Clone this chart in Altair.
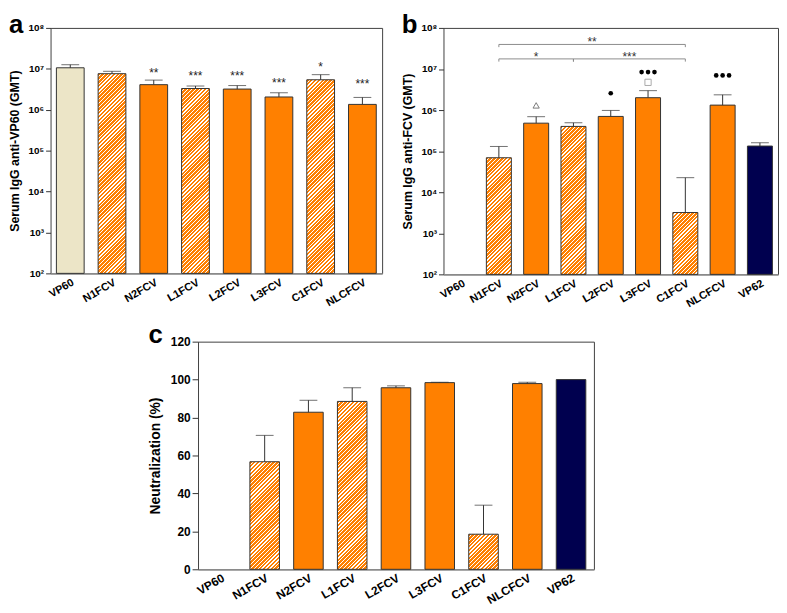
import math
import altair as alt
import pandas as pd

# ---------------- data ----------------
cats_a = ["VP60", "N1FCV", "N2FCV", "L1FCV", "L2FCV", "L3FCV", "C1FCV", "NLCFCV"]
gmt_a = [1.06e7, 7.6e6, 4.1e6, 3.3e6, 3.2e6, 2.05e6, 5.4e6, 1.35e6]
err_a = [1.26e7, 8.7e6, 5.3e6, 3.8e6, 3.9e6, 2.6e6, 7.2e6, 2.0e6]
stars_a = ["", "", "**", "***", "***", "***", "*", "***"]
star_y_a = [None, None, 6.4e6, 5.3e6, 5.3e6, 3.67e6, 8.96e6, 3.34e6]

cats_bc = ["VP60", "N1FCV", "N2FCV", "L1FCV", "L2FCV", "L3FCV", "C1FCV", "NLCFCV", "VP62"]
gmt_b = [None, 6.9e4, 4.8e5, 4.0e5, 7.0e5, 2.0e6, 3.2e3, 1.32e6, 1.33e5]
err_b = [None, 1.3e5, 6.9e5, 4.9e5, 9.8e5, 2.97e6, 2.26e4, 2.35e6, 1.6e5]

sym_cat_b = ["N2FCV", "L2FCV", "L3FCV", "L3FCV", "NLCFCV"]
sym_kind_b = ["triangle", "dot", "square", "dots", "dots"]
sym_y_b = [1.3e6, 2.57e6, 4.73e6, 8.4e6, 6.97e6]

br_from = ["N1FCV", "N1FCV", "L1FCV"]
br_to = ["C1FCV", "L1FCV", "C1FCV"]
br_level = [3.96e7, 1.76e7, 1.76e7]
br_label = ["**", "*", "***"]

neut_c = [0, 56.7, 82.8, 88.5, 95.7, 98.4, 18.5, 97.9, 100]
neut_err_c = [None, 70.6, 89.1, 95.7, 96.7, 98.6, 33.8, 98.6, None]

hatched = ["N1FCV", "L1FCV", "C1FCV"]

# ---------------- style ----------------
FONT = "Liberation Sans"
ORANGE = "#FF8000"
BEIGE = "#ECE5C7"
NAVY = "#00004F"
EDGE = "#333333"

W_A, H_A = 335, 248
W_B, H_B = 338, 249
W_C, H_C = 400, 230
PI_A, PO_A = 0.335, 0.14
PI_B, PO_B = 0.33, 0.15
PI_C, PO_C = 0.325, 0.185


def step_of(W, n, pi, po):
    return W / (n - pi + 2 * po)


def hatch(w, h, period=3.9, white=1.4):
    L = w + h
    a = L / (w * w + h * h)
    stops = []
    n = int(math.ceil(L / period)) + 1
    for k in range(n):
        s0 = k * period
        s1 = s0 + period - white
        s2 = s0 + period
        for off, col in [(s0, ORANGE), (s1, ORANGE), (s1, "#FFFFFF"), (s2, "#FFFFFF")]:
            stops.append(alt.GradientStop(color=col, offset=min(off / L, 1.0)))
    return alt.LinearGradient(gradient="linear", stops=stops, x1=0, y1=0, x2=a * w, y2=a * h)


sup = "['⁰','¹','²','³','⁴','⁵','⁶','⁷','⁸','⁹']"
log_label = "'10' + " + sup + "[round(log(datum.value)/LN10)]"


def x_enc(cats, pi, po, lsize):
    return alt.X(
        "cat:N",
        scale=alt.Scale(domain=cats, paddingInner=pi, paddingOuter=po),
        axis=alt.Axis(title=None, labelAngle=330, labelAlign="right", labelBaseline="top",
                      labelPadding=3, ticks=False, domainColor="#8a8a8a", domainWidth=1.5,
                      labelFontSize=lsize, labelFontWeight="bold", labelColor="black"),
    )


def y_axis_log(title):
    return alt.Axis(title=title, values=[1e2, 1e3, 1e4, 1e5, 1e6, 1e7, 1e8], labelExpr=log_label,
                    tickSize=5, tickColor=EDGE, domain=False, grid=False, labelFontSize=10,
                    labelFontWeight="bold", labelColor="black", labelPadding=2,
                    titleFontSize=12.5, titleFontWeight="bold", titlePadding=6, titleColor="black")


def letter(t, off):
    return alt.TitleParams(text=t, anchor="start", frame="bounds", fontSize=26,
                           fontWeight="bold", font=FONT, offset=off, color="black")


def bar_panel(df, cats, vfield, efield, yscale, yaxis, base_datum, W, H, pi, po, hfun, lsize):
    x = x_enc(cats, pi, po, lsize)
    yv = alt.Y(f"{vfield}:Q", scale=yscale, axis=yaxis)
    layers = []
    groups = [
        (BEIGE, [c for c in cats if c == "VP60"]),
        (ORANGE, [c for c in cats if c not in hatched and c not in ("VP60", "VP62")]),
        (NAVY, [c for c in cats if c == "VP62"]),
    ]
    for col, members in groups:
        if not members:
            continue
        layers.append(
            alt.Chart(df).transform_filter(alt.FieldOneOfPredicate(field="cat", oneOf=members))
            .transform_filter(f"isValid(datum.{vfield}) && datum.{vfield} > 0")
            .mark_bar(fill=col, stroke=EDGE, strokeWidth=1)
            .encode(x=x, y=yv, y2=alt.datum(base_datum))
        )
    bw = step_of(W, len(cats), pi, po) * (1 - pi)
    for c in hatched:
        v = float(df.loc[df.cat == c, vfield].iloc[0])
        layers.append(
            alt.Chart(df).transform_filter(alt.datum.cat == c)
            .mark_bar(fill=hatch(bw, hfun(v)), stroke=EDGE, strokeWidth=1)
            .encode(x=x, y=yv, y2=alt.datum(base_datum))
        )
    err = alt.Chart(df).transform_filter(f"isValid(datum.{efield})")
    layers.append(err.mark_rule(color=EDGE, strokeWidth=1).encode(x=x, y=yv, y2=f"{efield}:Q"))
    layers.append(err.mark_tick(color=EDGE, thickness=1, size=18).encode(
        x=x, y=alt.Y(f"{efield}:Q", scale=yscale, axis=yaxis)))
    return layers, x


# ---------------- panel a ----------------
df_a = pd.DataFrame({"cat": cats_a, "gmt": gmt_a, "err": err_a, "star": stars_a, "star_y": star_y_a})
ys_a = alt.Scale(type="log", domain=[1e2, 1e8], nice=False)
ax_a = y_axis_log("Serum IgG anti-VP60 (GMT)")
layers_a, xa = bar_panel(df_a, cats_a, "gmt", "err", ys_a, ax_a, 100,
                         W_A, H_A, PI_A, PO_A, lambda v: H_A * (math.log10(v) - 2) / 6, 11)
layers_a.append(
    alt.Chart(df_a).transform_filter("datum.star != ''")
    .mark_text(fontSize=12, color="#222", baseline="alphabetic", align="center", font=FONT)
    .encode(x=xa, y=alt.Y("star_y:Q", scale=ys_a, axis=ax_a), text="star:N")
)
panel_a = alt.layer(*layers_a).properties(width=W_A, height=H_A, title=letter("a", -15))

# ---------------- panel b ----------------
df_b = pd.DataFrame({"cat": cats_bc, "gmt": gmt_b, "err": err_b})
ys_b = alt.Scale(type="log", domain=[1e2, 1e8], nice=False)
ax_b = y_axis_log("Serum IgG anti-FCV (GMT)")
layers_b, xb = bar_panel(df_b, cats_bc, "gmt", "err", ys_b, ax_b, 100,
                         W_B, H_B, PI_B, PO_B, lambda v: H_B * (math.log10(v) - 2) / 6, 11)

df_sym = pd.DataFrame({"cat": sym_cat_b, "kind": sym_kind_b, "y": sym_y_b})
sym_y = alt.Y("y:Q", scale=ys_b, axis=ax_b)
layers_b.append(alt.Chart(df_sym).transform_filter("datum.kind == 'triangle'")
                .mark_point(shape="triangle-up", filled=False, color="#444", size=40, strokeWidth=1)
                .encode(x=xb, y=sym_y))
layers_b.append(alt.Chart(df_sym).transform_filter("datum.kind == 'square'")
                .mark_point(shape="square", filled=False, color="#888", size=40, strokeWidth=1)
                .encode(x=xb, y=sym_y))
layers_b.append(alt.Chart(df_sym).transform_filter("datum.kind == 'dot'")
                .mark_circle(color="black", size=22, opacity=1)
                .encode(x=xb, y=sym_y))
for off in (-6.5, 0, 6.5):
    layers_b.append(alt.Chart(df_sym).transform_filter("datum.kind == 'dots'")
                    .mark_circle(color="black", size=22, opacity=1, xOffset=off)
                    .encode(x=xb, y=sym_y))

# significance brackets
df_br = pd.DataFrame({"cat": br_from, "cat_to": br_to, "level": br_level, "label": br_label})
layers_b.append(alt.Chart(df_br).mark_rule(color="#8c8c8c", strokeWidth=1).encode(
    x=xb, x2="cat_to:N", y=alt.Y("level:Q", scale=ys_b, axis=ax_b)))
ends = pd.DataFrame({"cat": br_from + br_to, "level": br_level + br_level})
ends["low"] = ends["level"] * 0.86
layers_b.append(alt.Chart(ends).mark_rule(color="#8c8c8c", strokeWidth=1).encode(
    x=xb, y=alt.Y("level:Q", scale=ys_b, axis=ax_b), y2="low:Q"))
mids = [(cats_bc.index(a) + cats_bc.index(b)) / 2 for a, b in zip(br_from, br_to)]
df_lab = pd.DataFrame({"cat": [cats_bc[int(m)] for m in mids],
                       "half": [m - int(m) > 0 for m in mids],
                       "level": br_level, "label": br_label})
half_step = step_of(W_B, len(cats_bc), PI_B, PO_B) / 2
for flag, off in ((False, 0), (True, half_step)):
    layers_b.append(
        alt.Chart(df_lab).transform_filter(f"datum.half == {str(flag).lower()}")
        .mark_text(fontSize=12, color="#333", baseline="alphabetic", align="center", dy=2,
                   xOffset=off, font=FONT)
        .encode(x=xb, y=alt.Y("level:Q", scale=ys_b, axis=ax_b), text="label:N")
    )
panel_b = alt.layer(*layers_b).properties(width=W_B, height=H_B, title=letter("b", -15))

# ---------------- panel c ----------------
df_c = pd.DataFrame({"cat": cats_bc, "neut": neut_c, "err": neut_err_c})
ys_c = alt.Scale(domain=[0, 120], nice=False)
y_axis_c = alt.Axis(title="Neutralization (%)", values=[0, 20, 40, 60, 80, 100, 120], tickSize=6,
                    tickColor=EDGE, domain=False, grid=False, labelFontSize=12, labelFontWeight="bold",
                    labelColor="black", labelPadding=2, titleFontSize=14, titleFontWeight="bold",
                    titlePadding=8, titleColor="black")
layers_c, xc = bar_panel(df_c, cats_bc, "neut", "err", ys_c, y_axis_c, 0,
                         W_C, H_C, PI_C, PO_C, lambda v: H_C * v / 120, 12)
panel_c = alt.layer(*layers_c).properties(width=W_C, height=H_C, title=letter("c", -12))

spacer = (alt.Chart(pd.DataFrame({"v": [0]})).mark_point(opacity=0)
          .encode(x=alt.X("v:Q", axis=None), y=alt.Y("v:Q", axis=None))
          .properties(width=98, height=1, view=alt.ViewBackground(strokeOpacity=0)))

row1 = alt.hconcat(panel_a, panel_b, spacing=18)
row2 = alt.hconcat(spacer, panel_c, spacing=0)
chart = (alt.vconcat(row1, row2, spacing=11)
         .properties(padding={"left": 0, "top": 0, "right": 0, "bottom": 0})
         .configure_view(stroke="#404040", strokeWidth=1)
         .configure_axis(labelFont=FONT, titleFont=FONT)
         .configure_text(font=FONT)
         .configure_title(font=FONT))

chart.save("out.html", embed_options={"renderer": "svg", "actions": False})
